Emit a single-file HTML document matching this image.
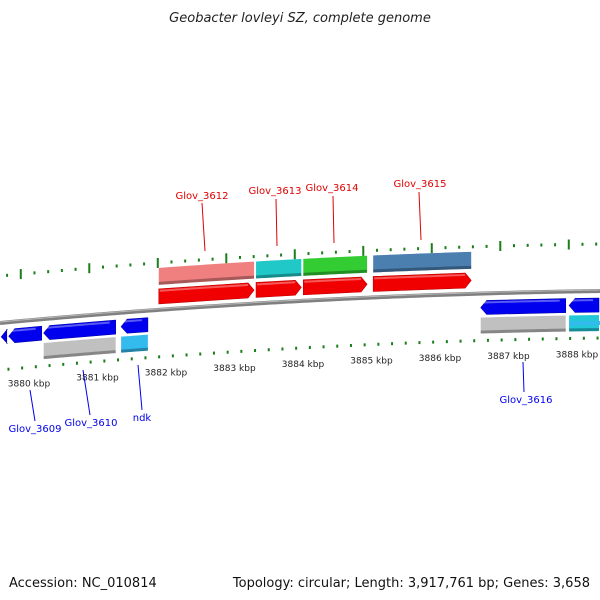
<!DOCTYPE html>
<html><head><meta charset="utf-8"><style>
body{margin:0;background:#fff;}
svg{display:block;font-family:"DejaVu Sans","Liberation Sans",sans-serif;}
</style></head><body>
<svg id="map" width="600" height="600" viewBox="0 0 600 600" xmlns="http://www.w3.org/2000/svg">
<text x="300" y="22" text-anchor="middle" font-size="13" font-style="italic" fill="#222">Geobacter lovleyi SZ, complete genome</text>
<text x="9" y="587" font-size="13" fill="#111">Accession: NC_010814</text>
<text x="590" y="587" text-anchor="end" font-size="13" fill="#111">Topology: circular; Length: 3,917,761 bp; Genes: 3,658</text>
<g id="layer"></g>
</svg>
<script>
const tickKbp=[3880,3881,3882,3883,3884,3885,3886,3887,3888];
const tickLabels=["3880 kbp","3881 kbp","3882 kbp","3883 kbp","3884 kbp","3885 kbp","3886 kbp","3887 kbp","3888 kbp"];
// genes: [startKbp,endKbp,strand,color]
const geneStarts=[3881.88,3883.30,3883.99,3885.01, 3879.58,3879.69,3880.20,3881.33, 3886.58,3887.87];
const geneEnds  =[3883.30,3883.99,3884.95,3886.47, 3879.69,3880.20,3881.28,3881.75, 3887.85,3888.34];
const geneStrand=[1,1,1,1,-1,-1,-1,-1,-1,-1];
const cdsColors=["#f08080","#20c8c8","#33cc33","#4a7fb0",null,null,"#c0c0c0","#33bbee","#c0c0c0","#22c8d8"];
const geneNames=["Glov_3612","Glov_3613","Glov_3614","Glov_3615","","Glov_3609","Glov_3610","ndk","Glov_3616",""];
const NS="http://www.w3.org/2000/svg";
const layer=document.getElementById('layer');
function X(k){return 29+(k-3880)*68.5;}
function Y(x){return 323-0.0933*x+0.0000667*x*x;}
function mk(t,a,p){const e=document.createElementNS(NS,t);for(const k in a)e.setAttribute(k,a[k]);(p||layer).appendChild(e);return e;}
function band(x1,x2,o1,o2){let pts=[];for(let x=x1;x<=x2;x+=4)pts.push(x+','+(Y(x)+o1));pts.push(x2+','+(Y(x2)+o1));pts.push(x2+','+(Y(x2)+o2));for(let x=x2;x>=x1;x-=4)pts.push(x+','+(Y(x)+o2));pts.push(x1+','+(Y(x1)+o2));return pts.join(' ');}
function arrow(x1,x2,o1,o2,dir){const h=6,m=(o1+o2)/2;let p=[];if(dir>0){p=[[x1,o1],[x2-h,o1],[x2,m],[x2-h,o2],[x1,o2]];}else{p=[[x1+h,o1],[x2,o1],[x2,o2],[x1+h,o2],[x1,m]];}return p.map(q=>q[0]+','+(Y(q[0])+q[1])).join(' ');}
// backbone
let d='M0,'+Y(0);for(let x=4;x<=600;x+=4)d+=' L'+x+','+Y(x);
const bb=mk('path',{d:d,fill:'none',stroke:'#808080','stroke-width':4});

mk('path',{d:d,fill:'none',stroke:'#b8b8b8','stroke-width':1,transform:'translate(0,-1)'});
// ticks
for(let k=3879.5;k<=3888.5;k+=0.2){const x=X(k);if(x<0||x>600)continue;const maj=Math.abs(k-Math.round(k))<0.05;
 const t=mk('rect',{x:x-1,y:Y(x)+47-(maj?5:1.5),width:2,height:maj?10:3,fill:'#1a7f1a'});
 }
for(let k=3879.48;k<=3888.5;k+=0.2){const x=X(k);if(x<0||x>600)continue;const maj=Math.abs(k-Math.round(k)-(-0.12))<0.05;
 const t=mk('rect',{x:x-1,y:Y(x)-47-(maj?5:1.5),width:2,height:maj?10:3,fill:'#1a7f1a'});
 }
tickKbp.forEach((k,i)=>{const x=X(k);const t=mk('text',{x:x,y:Y(x)+66,'text-anchor':'middle','font-size':9,fill:'#222'});t.textContent=tickLabels[i];
 });
// genes
for(let i=0;i<geneStarts.length;i++){
 const x1=Math.max(X(geneStarts[i]),-10),x2=Math.min(X(geneEnds[i]),600);const s=geneStrand[i];
 const ga=s>0?[-21,-6]:[7,21];
 const g=mk('polygon',{points:arrow(x1+1,x2-1,ga[0],ga[1],s),fill:s>0?'#f00000':'#0000ee',stroke:s>0?'#c00000':'#0000b0','stroke-width':0.6});
 
 mk('polygon',{points:band(x1+2,x2-7,ga[0]+1,ga[0]+3),fill:'rgba(255,255,255,0.35)'});
 if(cdsColors[i]){const ca=s>0?[-42,-25]:[24,40];
  const c=mk('polygon',{points:band(x1+1,x2-1,ca[0],ca[1]),fill:cdsColors[i]});
  
  mk('polygon',{points:band(x1+1,x2-1,ca[1]-3,ca[1]),fill:'rgba(0,0,0,0.3)'});}
}
mk('polygon',{points:band(569,600,30,34),fill:'#33bbee'});
// labels
const labs=[["Glov_3612",202,199,202,203,205,251,"#e00000"],["Glov_3613",275,194,276,199,277,246,"#e00000"],["Glov_3614",332,191,333,196,334,243,"#e00000"],["Glov_3615",420,187,419,192,421,240,"#e00000"],
["Glov_3609",35,432,30,390,35,421,"#0000ee"],["Glov_3610",91,426,83,370,90,415,"#0000ee"],["ndk",142,421,138,365,142,410,"#0000ee"],["Glov_3616",526,403,523,362,524,392,"#0000ee"]];
labs.forEach(l=>{const ln=mk('line',{x1:l[3],y1:l[4],x2:l[5],y2:l[6],stroke:l[7],'stroke-width':1});
 
 const t=mk('text',{x:l[1],y:l[2],'text-anchor':'middle','font-size':10,fill:l[7]});t.textContent=l[0];
 });
</script>
</body></html>
